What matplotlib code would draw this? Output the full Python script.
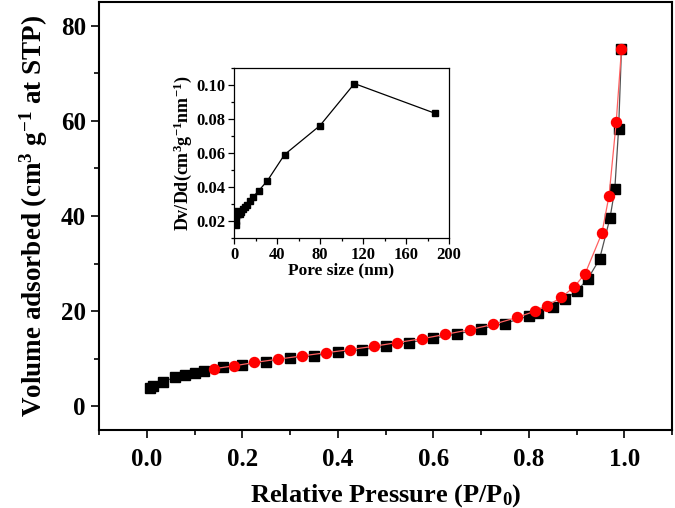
import numpy as np
import matplotlib
matplotlib.use("Agg")
import matplotlib.pyplot as plt
from matplotlib.ticker import MultipleLocator

plt.rcParams['font.family'] = 'Liberation Serif'
plt.rcParams['font.weight'] = 'bold'
plt.rcParams['mathtext.fontset'] = 'custom'
plt.rcParams['mathtext.rm'] = 'Liberation Serif:bold'
plt.rcParams['mathtext.it'] = 'Liberation Serif:bold'
plt.rcParams['mathtext.bf'] = 'Liberation Serif:bold'

# adsorption branch (black squares)
ads_p = [0.007, 0.012, 0.035, 0.06, 0.08, 0.10, 0.12, 0.16, 0.20, 0.25, 0.30,
         0.35, 0.40, 0.45, 0.50, 0.55, 0.60, 0.65, 0.70, 0.75, 0.80, 0.82,
         0.85, 0.875, 0.90, 0.923, 0.948, 0.97, 0.98, 0.988, 0.994]
ads_v = [3.9, 4.25, 5.2, 6.1, 6.6, 7.0, 7.5, 8.2, 8.7, 9.4, 10.2,
         10.6, 11.4, 11.9, 12.6, 13.4, 14.3, 15.2, 16.3, 17.4, 19.0, 19.7,
         20.9, 22.5, 24.2, 26.7, 30.9, 39.6, 45.6, 58.4, 75.1]

# desorption branch (red circles)
des_p = [0.141, 0.183, 0.225, 0.275, 0.326, 0.375, 0.425, 0.475, 0.525, 0.576,
         0.625, 0.676, 0.725, 0.776, 0.813, 0.838, 0.868, 0.895, 0.918, 0.953,
         0.968, 0.983, 0.994]
des_v = [7.9, 8.5, 9.2, 9.9, 10.6, 11.25, 11.9, 12.6, 13.4, 14.2,
         15.1, 16.1, 17.2, 18.7, 20.0, 21.1, 22.9, 25.1, 27.9, 36.4,
         44.3, 59.8, 75.1]

# pore size distribution (inset)
pore_d = [1.7, 1.9, 2.1, 2.4, 2.8, 3.3, 4.0, 5.2, 6.8, 8.5, 10.5, 12.5,
          15, 18, 23, 31, 47, 80, 112, 187]
pore_dv = [0.018, 0.020, 0.023, 0.0258, 0.025, 0.0245, 0.0243, 0.0245, 0.0255,
           0.027, 0.0285, 0.0298, 0.032, 0.0345, 0.038, 0.0438, 0.0592,
           0.0763, 0.101, 0.0835]

fig = plt.figure(figsize=(6.75, 5.08), dpi=100)
ax = fig.add_axes([0.1467, 0.1535, 0.849, 0.8425])

ax.plot(ads_p, ads_v, color='#505050', lw=0.9, marker='s', ms=6.5,
        mfc='black', mec='black', zorder=2)
ax.plot(des_p, des_v, color='#ff6060', lw=0.9, marker='o', ms=7.2,
        mfc='red', mec='red', zorder=3)

ax.set_xlim(-0.1, 1.1)
ax.set_ylim(-5, 85)
ax.xaxis.set_major_locator(MultipleLocator(0.2))
ax.xaxis.set_minor_locator(MultipleLocator(0.1))
ax.yaxis.set_major_locator(MultipleLocator(20))
ax.yaxis.set_minor_locator(MultipleLocator(10))
ax.xaxis.set_major_formatter(lambda v, p: f"{v:.1f}")
ax.tick_params(which='both', direction='out', top=False, right=False,
               width=1.2, labelsize=18)
ax.tick_params(axis='x', pad=7)
ax.tick_params(which='major', length=6)
ax.tick_params(which='minor', length=3.5)
for s in ax.spines.values():
    s.set_linewidth(1.5)

ax.set_xlabel('Relative Pressure (P/P$_0$)', fontsize=19, fontweight='bold',
              labelpad=8)
ax.set_ylabel('Volume adsorbed (cm$^{3}$ g$^{-1}$ at STP)', fontsize=19.5,
              fontweight='bold', labelpad=8)

# inset
axi = fig.add_axes([0.3467, 0.531, 0.3185, 0.3346])
axi.plot(pore_d, pore_dv, color='black', lw=0.9, marker='s', ms=4.2)
axi.set_xlim(0, 200)
axi.set_ylim(0.01, 0.11)
axi.xaxis.set_major_locator(MultipleLocator(40))
axi.xaxis.set_minor_locator(MultipleLocator(20))
axi.yaxis.set_major_locator(MultipleLocator(0.02))
axi.yaxis.set_minor_locator(MultipleLocator(0.01))
axi.yaxis.set_major_formatter(lambda v, p: f"{v:.2f}")
axi.tick_params(which='both', direction='out', top=False, right=False,
                width=0.9, labelsize=12, pad=2)
axi.tick_params(which='major', length=4)
axi.tick_params(which='minor', length=2)
for s in axi.spines.values():
    s.set_linewidth(0.9)
axi.set_xlabel('Pore size (nm)', fontsize=12.5, fontweight='bold', labelpad=0)
axi.set_ylabel('Dv/Dd(cm$^{3}$g$^{-1}$nm$^{-1}$)', fontsize=13,
               fontweight='bold', labelpad=2)

fig.savefig('out.png', dpi=100)
